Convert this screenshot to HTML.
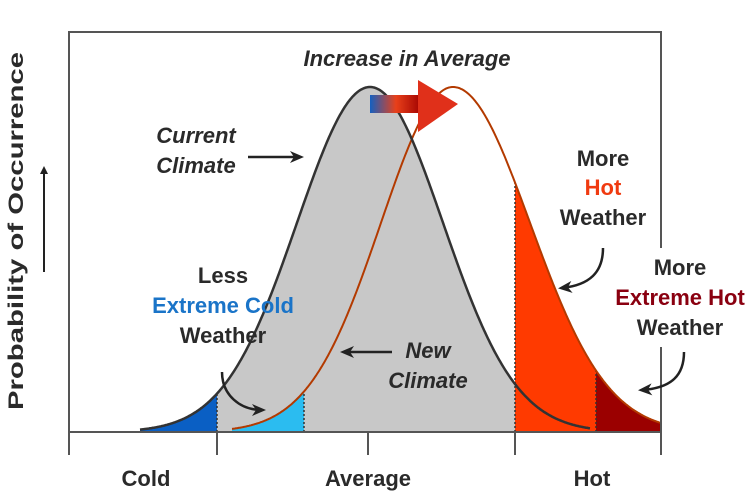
<!DOCTYPE html>
<html><head><meta charset="utf-8"><style>
body{margin:0;background:#fff}
svg{display:block}
text{font-family:"Liberation Sans",Arial,sans-serif;font-weight:bold;fill:#2a2a2a}
</style></head><body>
<svg width="756" height="498" viewBox="0 0 756 498" xmlns="http://www.w3.org/2000/svg">
<defs>
<linearGradient id="ag" x1="0" x2="1"><stop offset="0" stop-color="#1560c0"/><stop offset="0.5" stop-color="#e8401a"/><stop offset="1" stop-color="#a00000"/></linearGradient>
<marker id="ah" markerWidth="8" markerHeight="8" refX="6" refY="4" orient="auto" markerUnits="userSpaceOnUse"><path d="M0,0 L8,4 L0,8 Z" fill="#222"/></marker>
<marker id="ah2" markerWidth="14" markerHeight="12" refX="10" refY="6" orient="auto" markerUnits="userSpaceOnUse"><path d="M0,0 L14,6 L0,12 L4,6 Z" fill="#222"/></marker>
</defs>
<g id="g"></g>
<g stroke="#555" stroke-width="2" fill="none">
<path d="M69,455 V32 H661 V248 M661,347 V455"/>
<path d="M69,432 H661"/>
<path d="M217,432 V455 M368,432 V455 M515,432 V455"/>
</g>
<rect x="370" y="95" width="52" height="18" fill="url(#ag)"/>
<path d="M418,80 L458,104 L418,132 Z" fill="#e0301a"/>
<text x="407" y="66" font-size="22" font-style="italic" text-anchor="middle">Increase in Average</text>
<text x="196" y="143" font-size="22" font-style="italic" text-anchor="middle">Current</text>
<text x="196" y="173" font-size="22" font-style="italic" text-anchor="middle">Climate</text>
<path d="M248,157 H300" stroke="#222" stroke-width="2.5" marker-end="url(#ah2)"/>
<text x="223" y="283" font-size="22" text-anchor="middle">Less</text>
<text x="223" y="313" font-size="22" text-anchor="middle" style="fill:#1a74c8">Extreme Cold</text>
<text x="223" y="343" font-size="22" text-anchor="middle">Weather</text>
<path d="M222,372 C222,395 240,410 262,410" stroke="#222" stroke-width="2.5" fill="none" marker-end="url(#ah2)"/>
<text x="428" y="358" font-size="22" font-style="italic" text-anchor="middle">New</text>
<text x="428" y="388" font-size="22" font-style="italic" text-anchor="middle">Climate</text>
<path d="M392,352 H344" stroke="#222" stroke-width="2.5" marker-end="url(#ah2)"/>
<text x="603" y="166" font-size="22" text-anchor="middle">More</text>
<text x="603" y="195" font-size="22" text-anchor="middle" style="fill:#f03a10">Hot</text>
<text x="603" y="225" font-size="22" text-anchor="middle">Weather</text>
<path d="M603,248 C603,272 590,285 562,288" stroke="#222" stroke-width="2.5" fill="none" marker-end="url(#ah2)"/>
<text x="680" y="275" font-size="22" text-anchor="middle">More</text>
<text x="680" y="305" font-size="22" text-anchor="middle" style="fill:#8a0010">Extreme Hot</text>
<text x="680" y="335" font-size="22" text-anchor="middle">Weather</text>
<path d="M684,352 C684,375 672,388 642,390" stroke="#222" stroke-width="2.5" fill="none" marker-end="url(#ah2)"/>
<text transform="translate(23,231) rotate(-90)" font-size="21" text-anchor="middle" textLength="358" lengthAdjust="spacingAndGlyphs">Probability of Occurrence</text>
<path d="M44,272 V168" stroke="#222" stroke-width="2" marker-end="url(#ah)"/>
<text x="146" y="486" font-size="22" text-anchor="middle">Cold</text>
<text x="368" y="486" font-size="22" text-anchor="middle">Average</text>
<text x="592" y="486" font-size="22" text-anchor="middle">Hot</text>
</svg>
<script>
(function(){
var NS="http://www.w3.org/2000/svg",g=document.getElementById('g');
function c(x){return 432-345*Math.exp(-0.5*Math.pow((x-370)/73,2));}
function n(x){var s=x<453?72:77;return 432-345*Math.exp(-0.5*Math.pow((x-453)/s,2));}
function area(f,a,b,col){var d="M"+a+",432";for(var x=a;x<=b;x+=1)d+=" L"+x+","+f(x).toFixed(1);d+=" L"+b+",432 Z";var p=document.createElementNS(NS,'path');p.setAttribute('d',d);p.setAttribute('fill',col);g.appendChild(p);}
function line(f,a,b,col,w){var d="";for(var x=a;x<=b;x+=1)d+=(x==a?"M":" L")+x+","+f(x).toFixed(1);var p=document.createElementNS(NS,'path');p.setAttribute('d',d);p.setAttribute('fill','none');p.setAttribute('stroke',col);p.setAttribute('stroke-width',w);g.appendChild(p);}
function vl(x,f){var p=document.createElementNS(NS,'line');p.setAttribute('x1',x);p.setAttribute('x2',x);p.setAttribute('y1',432);p.setAttribute('y2',f(x));p.setAttribute('stroke','#333');p.setAttribute('stroke-width','1.5');p.setAttribute('stroke-dasharray','2,2');g.appendChild(p);}
area(c,140,217,'#0a5fc4');
area(c,217,515,'#c8c8c8');
area(n,232,304,'#2bbcf0');
area(n,515,596,'#ff3a00');
area(n,596,661,'#9b0000');
vl(217,c);vl(304,n);vl(515,n);vl(596,n);
line(n,232,661,'#b33a00',2);
line(c,140,590,'#333',2.5);
})();
</script>
</body></html>
